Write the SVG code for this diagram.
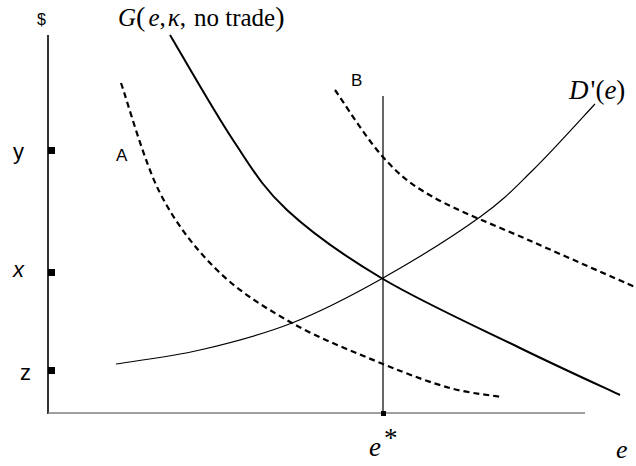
<svg xmlns="http://www.w3.org/2000/svg" width="636" height="466" viewBox="0 0 636 466">
<style>
.sans{font-family:"Liberation Sans",Arial,sans-serif;fill:#000}
.serif{font-family:"Liberation Serif","Times New Roman",serif;fill:#000}
.it{font-style:italic}
.curve{fill:none;stroke:#000}
.solid{stroke-width:2}
.thin{stroke-width:1.2}
.dash{stroke-width:2.2;stroke-dasharray:6 4}
.tick{fill:#000}
</style>
<rect width="636" height="466" fill="#fff"/>
<g id="axes">
<line x1="48" y1="35" x2="48" y2="414" stroke="#000" stroke-width="1.6"/>
<line x1="48" y1="413" x2="585" y2="413" stroke="#808080" stroke-width="1.6"/>
<rect class="tick" x="48" y="147" width="7" height="7"/>
<rect class="tick" x="48" y="269" width="7" height="7"/>
<rect class="tick" x="48" y="367" width="7" height="7"/>
<rect class="tick" x="381" y="411" width="5" height="5"/>
<text class="sans" x="37" y="25" font-size="16">$</text>
<text class="sans" x="13" y="159" font-size="22">y</text>
<text class="sans it" x="13" y="277" font-size="22">x</text>
<text class="sans" x="20" y="380" font-size="22">z</text>
<text class="serif it" x="369" y="456" font-size="27">e<tspan font-style="normal" dx="3" dy="-9">*</tspan></text>
<text class="serif it" x="616" y="458" font-size="26">e</text>
</g>
<g id="connectors">
<line x1="383" y1="96" x2="383" y2="413" stroke="#000" stroke-width="1.2"/>
</g>
<g id="curve-G">
<path class="curve solid" d="M170,35 C180.5,52.5 213.5,110.8 233,140 C252.5,169.2 262,186.8 287,210 C312,233.2 344.2,256 383,279 C421.8,302 480.5,328.7 520,348 C559.5,367.3 603.3,387.2 620,395"/>
<text class="serif" x="118" y="26" font-size="25"><tspan class="it">G</tspan><tspan font-size="28">(</tspan><tspan class="it" dx="3">e</tspan>,<tspan class="it" dx="2">κ</tspan>,<tspan dx="8">no trade</tspan><tspan font-size="28">)</tspan></text>
</g>
<g id="curve-A">
<path class="curve dash" d="M121,83 C127.5,101.3 144,161.8 160,193 C176,224.2 195,248.3 217,270 C239,291.7 264.3,307.3 292,323 C319.7,338.7 356.7,353.2 383,364 C409.3,374.8 430.2,382.5 450,388 C469.8,393.5 493.3,395.5 502,397"/>
<text class="sans" x="116" y="161" font-size="17">A</text>
</g>
<g id="curve-B">
<path class="curve dash" d="M335,90 C343,101.2 366.7,139.2 383,157 C399.3,174.8 408,182.8 433,197 C458,211.2 499.3,227 533,242 C566.7,257 618,279.5 635,287"/>
<text class="sans" x="351" y="86" font-size="17">B</text>
</g>
<g id="curve-D">
<path class="curve thin" d="M116,364 C130,361.7 170.7,356.8 200,350 C229.3,343.2 261.5,335 292,323 C322.5,311 351.7,295.7 383,278 C414.3,260.3 455,235 480,217 C505,199 513.8,188.8 533,170 C552.2,151.2 584.7,115 595,104"/>
<text class="serif" x="569" y="99" font-size="27"><tspan class="it">D</tspan><tspan dx="2">'</tspan>(<tspan class="it">e</tspan>)</text>
</g>
</svg>
